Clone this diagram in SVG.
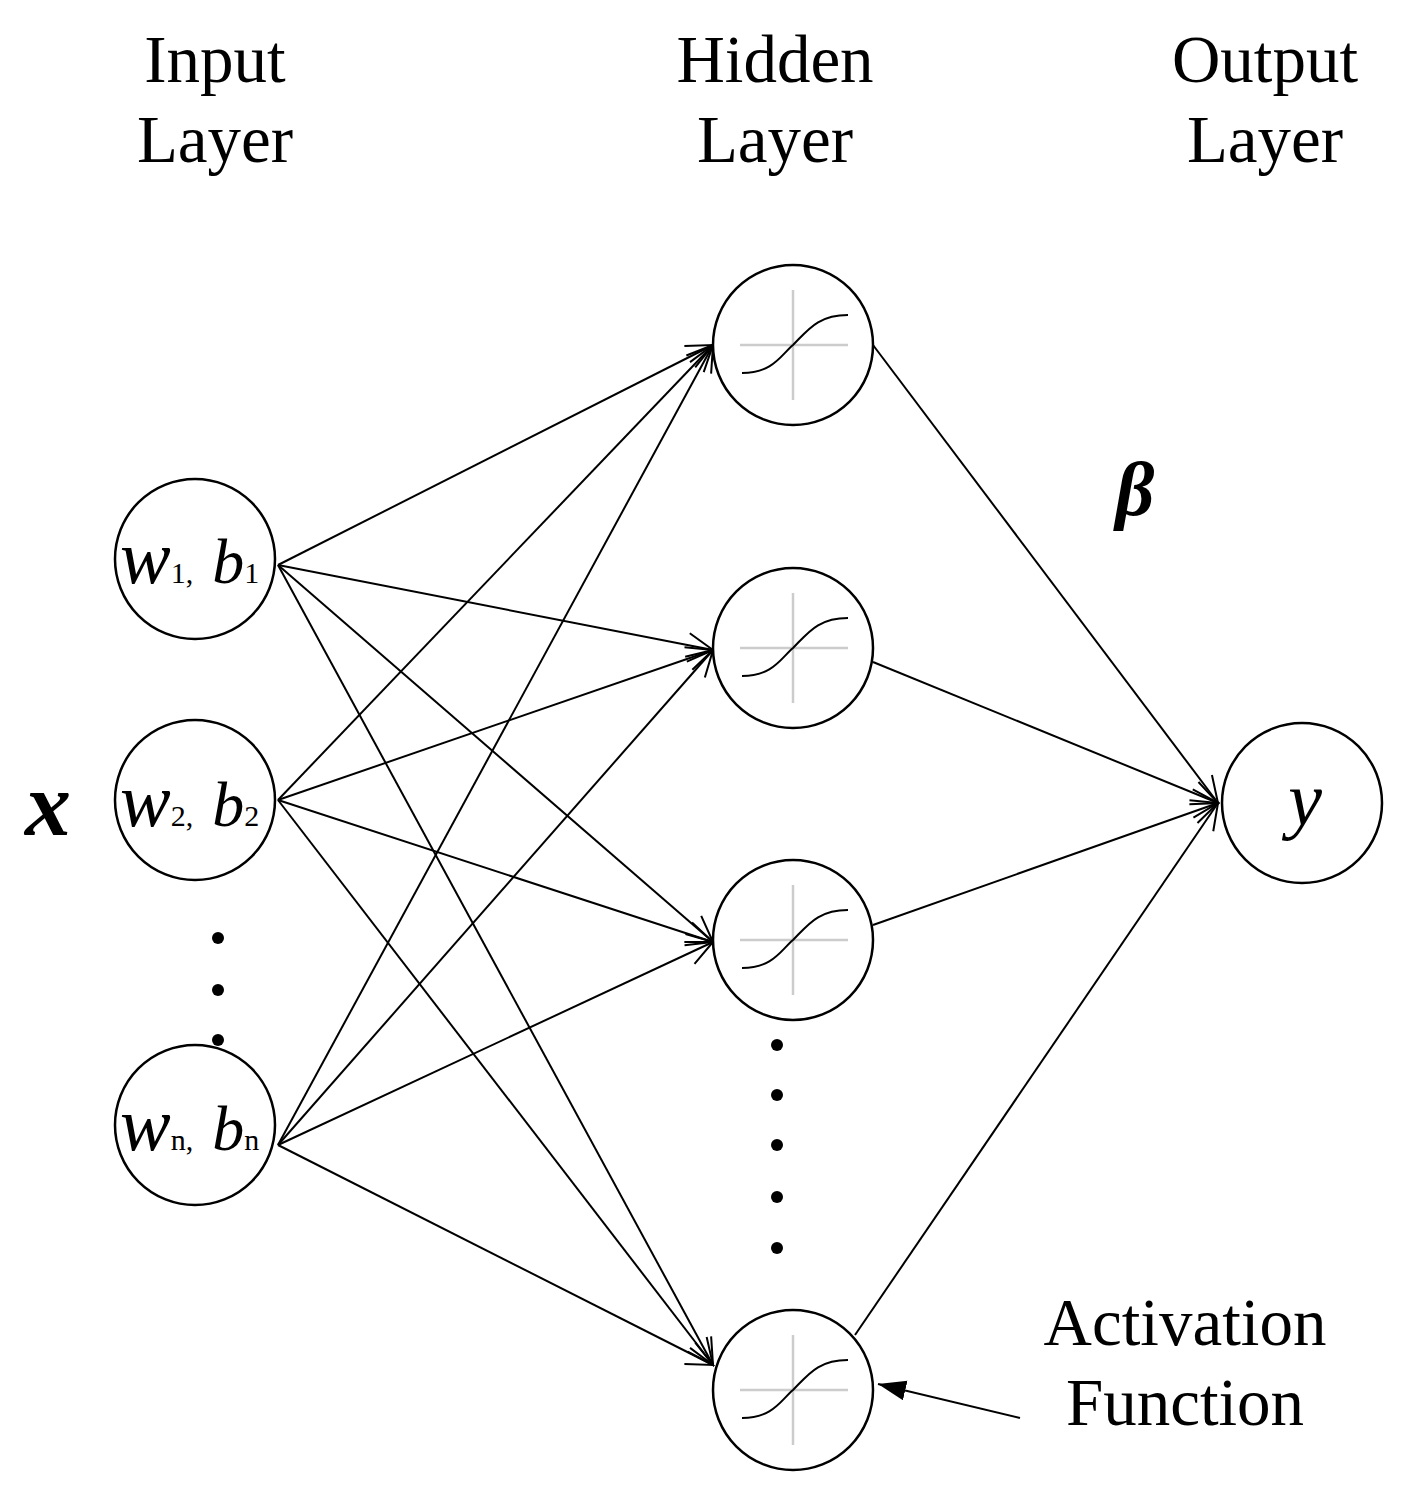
<svg xmlns="http://www.w3.org/2000/svg" width="1407" height="1501" viewBox="0 0 1407 1501">
<style>
.n{fill:#fff;stroke:#000;stroke-width:2.5}
.c line{stroke:#000;stroke-width:2}
.t{font-family:"Liberation Serif",serif;font-size:67px;text-anchor:middle}
.i{font-family:"Liberation Serif",serif;font-style:italic}
.g{stroke:#ccc;stroke-width:2.5}
.s{fill:none;stroke:#000;stroke-width:2}
</style>
<defs>
<marker id="a" markerWidth="30" markerHeight="30" refX="28" refY="15" orient="auto" markerUnits="userSpaceOnUse"><path d="M2,3 L28,15 L2,27" fill="none" stroke="#000" stroke-width="2"/></marker>
<marker id="f" markerWidth="30" markerHeight="30" refX="28" refY="10" orient="auto" markerUnits="userSpaceOnUse"><path d="M0,0 L28,10 L0,20 Z" fill="#000"/></marker>
<g id="sig"><line class="g" x1="-53" y1="0" x2="55" y2="0"/><line class="g" x1="0" y1="-55" x2="0" y2="55"/><path class="s" d="M-51,28 C-20,28 -12,10 0,0 C15,-15 25,-30 55,-30"/></g>
</defs>
<text class="t" x="215" y="82">Input</text><text class="t" x="215" y="162">Layer</text>
<text class="t" x="775" y="82">Hidden</text><text class="t" x="775" y="162">Layer</text>
<text class="t" x="1265" y="82">Output</text><text class="t" x="1265" y="162">Layer</text>
<g class="c">
<line x1="278" y1="565" x2="713" y2="345" marker-end="url(#a)"/>
<line x1="278" y1="565" x2="713" y2="650" marker-end="url(#a)"/>
<line x1="278" y1="565" x2="713" y2="942" marker-end="url(#a)"/>
<line x1="278" y1="565" x2="713" y2="1365" marker-end="url(#a)"/>
<line x1="278" y1="800" x2="713" y2="345" marker-end="url(#a)"/>
<line x1="278" y1="800" x2="713" y2="650" marker-end="url(#a)"/>
<line x1="278" y1="800" x2="713" y2="942" marker-end="url(#a)"/>
<line x1="278" y1="800" x2="713" y2="1365" marker-end="url(#a)"/>
<line x1="278" y1="1145" x2="713" y2="345" marker-end="url(#a)"/>
<line x1="278" y1="1145" x2="713" y2="650" marker-end="url(#a)"/>
<line x1="278" y1="1145" x2="713" y2="942" marker-end="url(#a)"/>
<line x1="278" y1="1145" x2="713" y2="1365" marker-end="url(#a)"/>
<line x1="873" y1="345" x2="1218" y2="803" marker-end="url(#a)"/>
<line x1="873" y1="662" x2="1218" y2="803" marker-end="url(#a)"/>
<line x1="873" y1="925" x2="1218" y2="803" marker-end="url(#a)"/>
<line x1="855" y1="1335" x2="1218" y2="803" marker-end="url(#a)"/>
<line x1="1020" y1="1418" x2="878" y2="1384" marker-end="url(#f)"/>
</g>
<g id="in1"><circle class="n" cx="195" cy="559" r="80"/><text class="i" x="120" y="583" font-size="76">w<tspan font-size="30" font-style="normal">1,</tspan> <tspan font-size="64">b</tspan><tspan font-size="30" font-style="normal">1</tspan></text></g>
<g id="in2"><circle class="n" cx="195" cy="800" r="80"/><text class="i" x="120" y="826" font-size="76">w<tspan font-size="30" font-style="normal">2,</tspan> <tspan font-size="64">b</tspan><tspan font-size="30" font-style="normal">2</tspan></text></g>
<g id="inn"><circle class="n" cx="195" cy="1125" r="80"/><text class="i" x="120" y="1150" font-size="76">w<tspan font-size="30" font-style="normal">n,</tspan> <tspan font-size="64">b</tspan><tspan font-size="30" font-style="normal">n</tspan></text></g>
<g id="h1"><circle class="n" cx="793" cy="345" r="80"/><use href="#sig" x="793" y="345"/></g>
<g id="h2"><circle class="n" cx="793" cy="648" r="80"/><use href="#sig" x="793" y="648"/></g>
<g id="h3"><circle class="n" cx="793" cy="940" r="80"/><use href="#sig" x="793" y="940"/></g>
<g id="h4"><circle class="n" cx="793" cy="1390" r="80"/><use href="#sig" x="793" y="1390"/></g>
<g id="out"><circle class="n" cx="1302" cy="803" r="80"/><text class="i" x="1305" y="825" font-size="76" text-anchor="middle">y</text></g>
<g fill="#000">
<circle cx="218" cy="938" r="6"/><circle cx="218" cy="990" r="6"/><circle cx="218" cy="1040" r="6"/>
<circle cx="777" cy="1045" r="6"/><circle cx="777" cy="1095" r="6"/><circle cx="777" cy="1145" r="6"/><circle cx="777" cy="1197" r="6"/><circle cx="777" cy="1248" r="6"/>
</g>
<text class="i" x="48" y="835" font-size="92" font-weight="bold" text-anchor="middle">x</text>
<text class="i" x="1135" y="515" font-size="76" font-weight="bold" text-anchor="middle">β</text>
<text class="t" x="1185" y="1345">Activation</text>
<text class="t" x="1185" y="1425">Function</text>
</svg>
